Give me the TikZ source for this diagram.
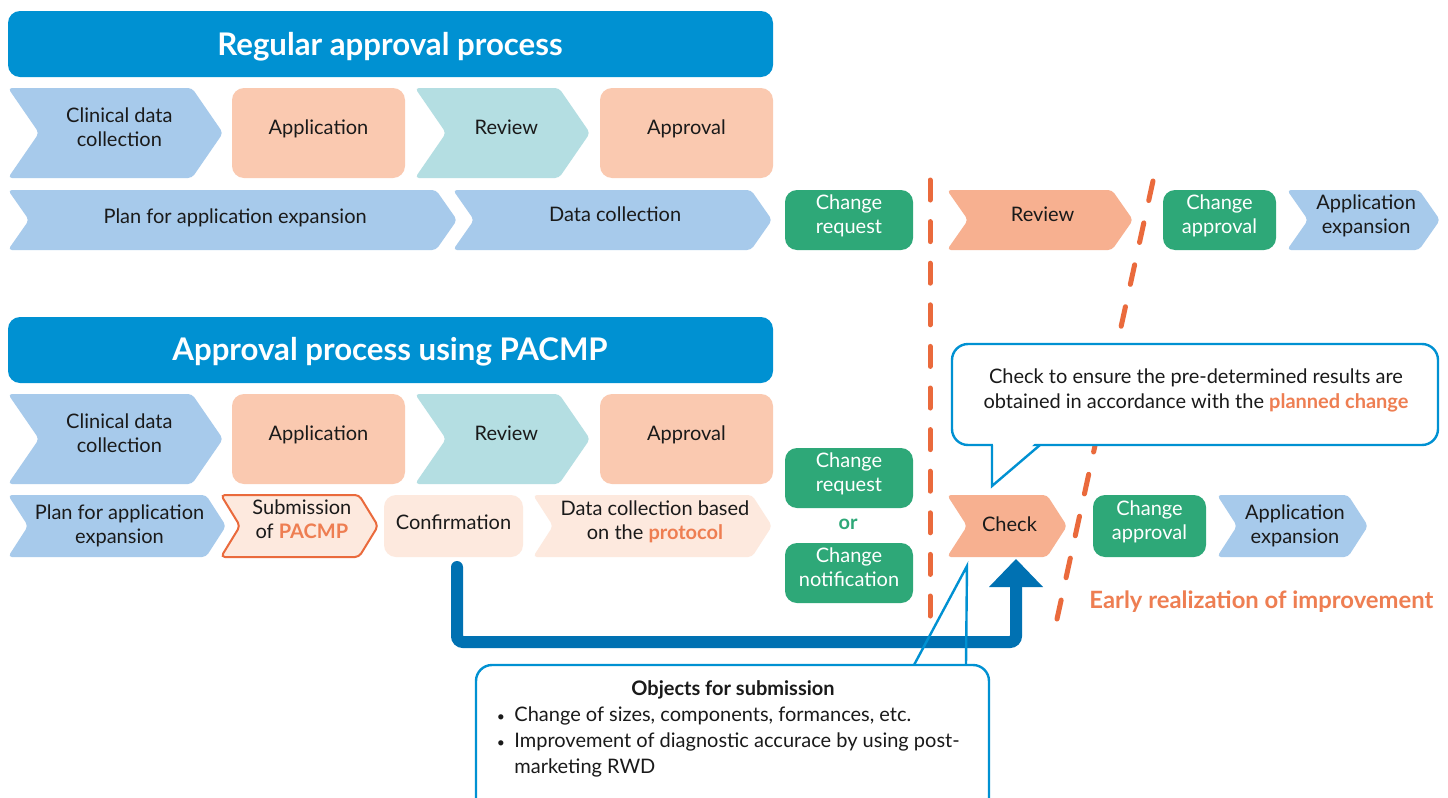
\documentclass[tikz,border=0pt]{standalone}
\usepackage{fontspec}
\setmainfont{Lato}
\usetikzlibrary{arrows.meta}
\definecolor{bannerblue}{RGB}{0,145,210}
\definecolor{lblue}{RGB}{167,202,235}
\definecolor{peach}{RGB}{250,201,176}
\definecolor{lteal}{RGB}{180,222,226}
\definecolor{cgreen}{RGB}{46,168,120}
\definecolor{salmon}{RGB}{247,176,144}
\definecolor{corange}{RGB}{234,106,60}
\definecolor{torange}{RGB}{238,126,82}
\definecolor{pale}{RGB}{253,233,222}
\definecolor{darrow}{RGB}{0,113,178}
\definecolor{txtc}{RGB}{26,26,26}
\newcommand{\tstrut}{\rule[-2.5pt]{0pt}{11pt}}
% chevron: name, x1, y1, x2, y2, depth, path style, node style, text
\newcommand{\chev}[9]{%
  \pgfmathsetmacro\chcy{(#3+#5)/2}%
  \pgfmathsetmacro\chcx{(#2+#4)/2+#6/8}%
  \path[#7, rounded corners=2pt] (#2,#3) -- ({#4-#6},#3) -- (#4,\chcy) -- ({#4-#6},#5) -- (#2,#5) -- ({#2+#6},\chcy) -- cycle;
  \node[yshift=2.5pt, #8] (#1) at (\chcx,\chcy) {\tstrut#9\tstrut};
}
% rounded box: name, x1, y1, x2, y2, path style, node style, text
\newcommand{\rbox}[8]{%
  \pgfmathsetmacro\chcy{(#3+#5)/2}%
  \pgfmathsetmacro\chcx{(#2+#4)/2}%
  \path[#6, rounded corners=6pt] (#2,#3) rectangle (#4,#5);
  \node[yshift=2.5pt, #7] (#1) at (\chcx,\chcy) {\tstrut#8\tstrut};
}
\tikzset{
  txt/.style={align=center, inner sep=0pt, text=txtc, font=\fontsize{10}{12}\selectfont},
  wtxt/.style={txt, text=white},
  ttl/.style={inner sep=0pt, text=white, font=\fontsize{15.6}{18}\bfseries\selectfont},
  odash/.style={draw=corange, line width=2.5pt, line cap=round},
  callout/.style={draw=bannerblue, line width=1.2pt, fill=white},
  blarrow/.style={draw=darrow, line width=6pt, rounded corners=3pt, line cap=round}
}
\begin{document}
\begin{tikzpicture}[x=0.5pt, y=-0.5pt]
\useasboundingbox (0,0) rectangle (1448,798);
\clip (0,0) rectangle (1448,798);
\fill[white] (0,0) rectangle (1448,798);

% ===== Regular approval process =====
\fill[bannerblue, rounded corners=6pt] (8,11) rectangle (773,77);
\node[ttl] (t1) at (390,47) {Regular approval process};

\chev{r1a}{8}{88}{223}{178}{31}{fill=lblue}{txt}{Clinical data\\collection}
\rbox{r1b}{232}{88}{405}{178}{fill=peach}{txt}{Application}
\chev{r1c}{415}{88}{590}{178}{31}{fill=lteal}{txt}{Review}
\rbox{r1d}{600}{88}{773}{178}{fill=peach}{txt}{Approval}

\chev{r2a}{8}{190}{457}{250}{21}{fill=lblue}{txt, yshift=-1pt}{Plan for application expansion}
\chev{r2b}{453}{190}{772}{250}{21}{fill=lblue}{txt}{Data collection}
\rbox{r2c}{785}{190}{913}{250}{fill=cgreen}{wtxt}{Change\\request}
\chev{r2d}{947}{190}{1133}{250}{21}{fill=salmon}{txt}{Review}
\rbox{r2e}{1163}{190}{1276}{250}{fill=cgreen}{wtxt}{Change\\approval}
\chev{r2f}{1287}{190}{1440}{250}{21}{fill=lblue}{txt}{Application\\expansion}

% ===== Approval process using PACMP =====
\fill[bannerblue, rounded corners=6pt] (8,317) rectangle (773,383);
\node[ttl] (t2) at (390,352) {Approval process using PACMP};

\chev{p1a}{8}{394}{223}{484}{31}{fill=lblue}{txt}{Clinical data\\collection}
\rbox{p1b}{232}{394}{405}{484}{fill=peach}{txt}{Application}
\chev{p1c}{415}{394}{590}{484}{31}{fill=lteal}{txt}{Review}
\rbox{p1d}{600}{394}{773}{484}{fill=peach}{txt}{Approval}

\chev{p2a}{8}{495}{226}{557}{20}{fill=lblue}{txt, yshift=-2pt}{Plan for application\\expansion}
\chev{p2b}{221}{495}{378}{557}{19}{fill=pale, draw=corange, line width=1pt}{txt, yshift=0.5pt}{Submission\\of {\color{torange}\bfseries PACMP}}
\rbox{p2c}{384}{495}{523}{557}{fill=pale}{txt, yshift=-1pt}{Confirmation}
\chev{p2d}{533}{495}{772}{557}{20}{fill=pale}{txt}{Data collection based\\on the {\color{torange}\bfseries protocol}}
\rbox{p2e}{785}{448}{913}{508}{fill=cgreen}{wtxt}{Change\\request}
\node[txt, text=cgreen, font=\fontsize{10}{12}\bfseries\selectfont] (or) at (848,524) {or};
\rbox{p2f}{785}{543}{913}{603}{fill=cgreen}{wtxt}{Change\\notification}
\chev{p2g}{947}{495}{1067}{557}{20}{fill=salmon}{txt, yshift=-2pt}{Check}
\rbox{p2h}{1093}{495}{1206}{557}{fill=cgreen}{wtxt}{Change\\approval}
\chev{p2i}{1217}{495}{1368}{557}{20}{fill=lblue}{txt, yshift=-2pt}{Application\\expansion}

\node[txt, text=torange, font=\fontsize{11.9}{14}\bfseries\selectfont, anchor=west] (early) at (1089,602) {Early realization of improvement};

% ===== dashed separators =====
\coordinate (v1) at (930,180);
\coordinate (v2) at (930,616);
\coordinate (s1) at (1153,181);
\coordinate (s2) at (1057,619);
\draw[odash, dash pattern=on 10pt off 10.8pt] (v1) -- (v2);
\draw[odash, dash pattern=on 10pt off 11.45pt] (s1) -- (s2);

% ===== blue arrow from Confirmation to Check =====
\coordinate (b0) at (457,567);
\coordinate (b1) at (457,642);
\coordinate (b2) at (1016,642);
\coordinate (b3) at (1016,559);
\draw[blarrow] (b0) -- (b1) -- (b2) -- (1016,585);
\fill[darrow] (989,587) -- (1043,587) -- (b3) -- cycle;

% ===== upper callout =====
\draw[callout, rounded corners=8pt] (952,344) rectangle (1438,445);
\fill[white] (993,441) -- (1037,441) -- (993,486) -- cycle;
\coordinate (c1tip) at (992,486);
\draw[draw=bannerblue, line width=1.2pt] (992,445) -- (c1tip) -- (1040,445);
\node[txt, font=\fontsize{10}{12.5}\selectfont] (c1txt) at (1196,390) {Check to ensure the pre-determined results are\\obtained in accordance with the {\color{torange}\bfseries planned change}};

% ===== lower callout =====
\draw[callout, rounded corners=8pt] (476,665) rectangle (989,830);
\coordinate (c2tip) at (967,566);
\draw[draw=bannerblue, line width=1.2pt] (914,665) -- (c2tip) -- (966,665);
\node[txt, font=\fontsize{10}{12}\bfseries\selectfont] (c2h) at (733,690) {Objects for submission};
\node[txt, font=\fontsize{7}{12}\selectfont] (c2b1) at (501,718) {•};
\node[txt, anchor=west] (c2l1) at (514,716) {Change of sizes, components, formances, etc.};
\node[txt, font=\fontsize{7}{12}\selectfont] (c2b2) at (501,744) {•};
\node[txt, anchor=west] (c2l2) at (514,742) {Improvement of diagnostic accurace by using post-};
\node[txt, anchor=west] (c2l3) at (514,768) {marketing RWD};
\end{tikzpicture}
\end{document}
